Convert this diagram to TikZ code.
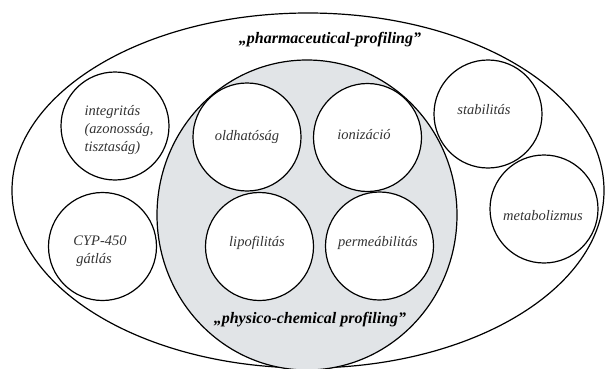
\documentclass[tikz,border=0pt]{standalone}
\usepackage{fontspec}
\setmainfont{Liberation Serif}
\definecolor{physgray}{RGB}{225,228,231}
\tikzset{
bubble/.style={circle,draw,fill=white,line width=1.2pt,minimum size=108pt,inner sep=0pt},
txt/.style={font=\itshape\fontsize{14.5}{18}\selectfont,text=black!80,align=left,inner sep=0pt},
title/.style={font=\bfseries\itshape\fontsize{16}{19}\selectfont,inner sep=0pt}
}
\begin{document}
\begin{tikzpicture}[x=1pt,y=-1pt]
\useasboundingbox (0,0) rectangle (605,369);
\draw[line width=1.2pt](308,190.5) ellipse [x radius=296,y radius=177.5];
\draw[line width=1.2pt,fill=physgray](307,215) ellipse [x radius=150,y radius=155];
\foreach \n/\x/\y in {integ/115/126,cyp/102.5/246.5,oldh/247/137,ioniz/367.5/137.5,lipo/259.5/246.5,perm/379.5/246,stab/488/114,metab/544/209}{
\node[bubble](\n) at (\x,\y){};
}
\node[title](pharm) at (330,40){„pharmaceutical-profiling”};
\node[title](phys) at (310,320){„physico-chemical profiling”};
\node[txt](integtxt) at (119,130){integritás\\(azonosság,\\tisztaság)};
\node[txt](cyptxt) at (100,251){CYP-450\\\hspace{3pt}gátlás};
\node[txt](oldhtxt) at (247,137){oldhatóság};
\node[txt](iniztxt) at (364,135){ionizáció};
\node[txt](stabtxt) at (484,110){stabilitás};
\node[txt](metabtxt) at (543,216){metabolizmus};
\node[txt](lipotxt) at (257,243){lipofilitás};
\node[txt](permtxt) at (378,243){permeábilitás};
\end{tikzpicture}
\end{document}
